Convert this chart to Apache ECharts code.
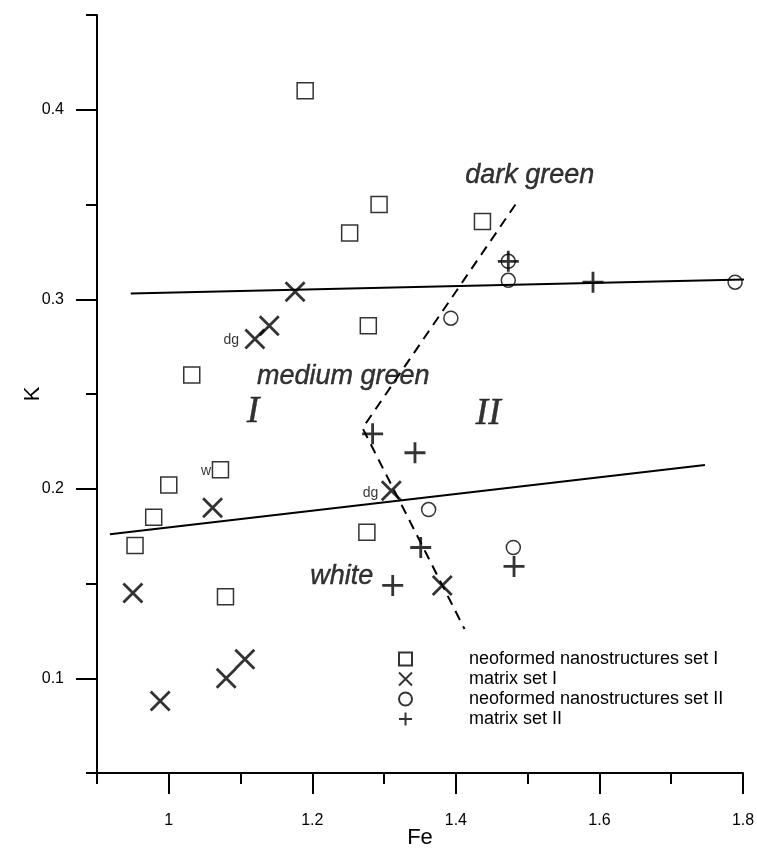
<!DOCTYPE html>
<html>
<head>
<meta charset="utf-8">
<script src="https://cdn.jsdelivr.net/npm/echarts@6/dist/echarts.min.js"></script>
<style>
html,body{margin:0;padding:0;background:#fff;}
#chart{width:757px;height:851px;}
</style>
</head>
<body>
<div id="chart"></div>
<script>
// ---- data ----
const neoSetI = [[1.190,0.410],[1.293,0.350],[1.252,0.335],[1.437,0.341],[1.278,0.286],[1.032,0.260],[1.072,0.210],[1.000,0.202],[0.979,0.185],[0.953,0.170],[1.276,0.177],[1.079,0.143]];
const matrixSetI = [[1.176,0.304],[1.140,0.286],[1.120,0.279],[1.061,0.190],[1.310,0.199],[1.381,0.149],[0.950,0.145],[0.988,0.088],[1.080,0.100],[1.106,0.110]];
const neoSetII = [[1.473,0.320],[1.473,0.310],[1.789,0.309],[1.393,0.290],[1.362,0.189],[1.480,0.169]];
const matrixSetII = [[1.473,0.320],[1.591,0.309],[1.284,0.229],[1.343,0.219],[1.351,0.169],[1.312,0.149],[1.481,0.159]];
const upperLine = [[0.947,0.303],[1.82,0.3106]];
const lowerLine = [[0.918,0.176],[1.747,0.2125]];
const boundaryLine = [[1.483,0.350],[1.270,0.232],[1.412,0.126]];
const xMajorTicks = [1.0,1.2,1.4,1.6,1.8];
const xMinorTicks = [0.9,1.1,1.3,1.5,1.7];
const yMajorTicks = [0.1,0.2,0.3,0.4];
const yMinorTicks = [0.05,0.15,0.25,0.35,0.45];
const regionLabels = [
  {name:'dark green', value:[1.503,0.3652]},
  {name:'medium green', value:[1.243,0.2592]},
  {name:'white', value:[1.241,0.1535]}
];
const romanLabels = [
  {name:'I', value:[1.1175,0.2405]},
  {name:'II', value:[1.445,0.2395]}
];
const pointNotes = [
  {name:'dg', value:[1.087,0.2785]},
  {name:'w', value:[1.052,0.2095]},
  {name:'dg', value:[1.281,0.1975]}
];
const seriesNames = ['neoformed nanostructures set I','matrix set I','neoformed nanostructures set II','matrix set II'];

// ---- chart ----
const SANS = 'Liberation Sans, Arial, sans-serif';
const SERIF = 'Liberation Serif, Times New Roman, serif';
const black = '#000';
const tickStyle = {color:black, width:2};
const chart = echarts.init(document.getElementById('chart'), null, {renderer:'canvas'});

const X_PATH = 'path://M0,0L10,10M10,0L0,10';
const PLUS_PATH = 'path://M5,0L5,10M0,5L10,5';
const hollow = 'rgba(0,0,0,0)';

const option = {
  animation:false,
  backgroundColor:'#fff',
  textStyle:{color:black, fontFamily:SANS},
  grid:{left:97, right:14, top:15, bottom:78, containLabel:false, outerBoundsMode:'none'},
  xAxis:[
    {type:'value', min:0.9, max:1.8, position:'bottom',
      name:'Fe', nameLocation:'middle', nameGap:54, nameMoveOverlap:false,
      nameTextStyle:{fontSize:22, color:black, fontFamily:SANS},
      axisLine:{show:true, onZero:false, lineStyle:{color:black, width:2}},
      axisTick:{show:true, inside:false, length:21, customValues:xMajorTicks, lineStyle:tickStyle},
      axisLabel:{show:true, customValues:xMajorTicks, margin:40, fontSize:16, color:black, fontFamily:SANS},
      splitLine:{show:false}},
    {type:'value', min:0.9, max:1.8, position:'bottom',
      axisLine:{show:false, onZero:false},
      axisTick:{show:true, inside:false, length:11, customValues:xMinorTicks, lineStyle:tickStyle},
      axisLabel:{show:false}, splitLine:{show:false}}
  ],
  yAxis:[
    {type:'value', min:0.05, max:0.45, position:'left',
      name:'K', nameLocation:'middle', nameGap:53, nameRotate:90, nameMoveOverlap:false,
      nameTextStyle:{fontSize:22, color:black, fontFamily:SANS},
      axisLine:{show:true, onZero:false, lineStyle:{color:black, width:2}},
      axisTick:{show:true, inside:false, length:21, customValues:yMajorTicks, lineStyle:tickStyle},
      axisLabel:{show:true, customValues:yMajorTicks, margin:33, fontSize:16, color:black, fontFamily:SANS},
      splitLine:{show:false}},
    {type:'value', min:0.05, max:0.45, position:'left',
      axisLine:{show:false, onZero:false},
      axisTick:{show:true, inside:false, length:11, customValues:yMinorTicks, lineStyle:tickStyle},
      axisLabel:{show:false}, splitLine:{show:false}}
  ],
  legend:{
    data:seriesNames, orient:'vertical', left:393, top:645,
    itemWidth:13, itemHeight:13, itemGap:2,
    textStyle:{fontSize:18, color:black, fontFamily:SANS, padding:[0,0,0,52]},
    selectedMode:false
  },
  series:[
    {type:'line', name:'upper', data:upperLine, showSymbol:false, clip:false, silent:true,
      lineStyle:{color:black, width:2}, z:1},
    {type:'line', name:'lower', data:lowerLine, showSymbol:false, clip:false, silent:true,
      lineStyle:{color:black, width:2}, z:1},
    {type:'line', name:'boundary', data:boundaryLine, showSymbol:false, clip:false, silent:true,
      lineStyle:{color:black, width:2, type:[10,7]}, z:1},
    {type:'scatter', name:seriesNames[0], data:neoSetI, symbol:'rect', symbolSize:16,
      itemStyle:{color:hollow, borderColor:black, borderWidth:1.5}, z:3},
    {type:'scatter', name:seriesNames[1], data:matrixSetI, symbol:X_PATH, symbolSize:19,
      itemStyle:{color:hollow, borderColor:black, borderWidth:2.8}, z:3},
    {type:'scatter', name:seriesNames[2], data:neoSetII, symbol:'circle', symbolSize:14,
      itemStyle:{color:hollow, borderColor:black, borderWidth:1.5}, z:3},
    {type:'scatter', name:seriesNames[3], data:matrixSetII, symbol:PLUS_PATH, symbolSize:21,
      itemStyle:{color:hollow, borderColor:black, borderWidth:2.8}, z:3},
    {type:'scatter', name:'regions', data:regionLabels, symbolSize:0, silent:true,
      itemStyle:{color:black},
      label:{show:true, position:'inside', formatter:'{b}', fontSize:27, fontStyle:'italic', color:black,
        textBorderColor:black, textBorderWidth:0.4, fontFamily:SANS}, z:4},
    {type:'scatter', name:'roman', data:romanLabels, symbolSize:0, silent:true,
      itemStyle:{color:black},
      label:{show:true, position:'inside', formatter:'{b}', fontSize:38, fontStyle:'italic', color:black,
        textBorderColor:black, textBorderWidth:0.4, fontFamily:SERIF}, z:4},
    {type:'scatter', name:'notes', data:pointNotes, symbolSize:0, silent:true,
      itemStyle:{color:black},
      label:{show:true, position:'inside', formatter:'{b}', fontSize:14, color:black, fontFamily:SANS}, z:4}
  ]
};
chart.setOption(option);
</script>
</body>
</html>
